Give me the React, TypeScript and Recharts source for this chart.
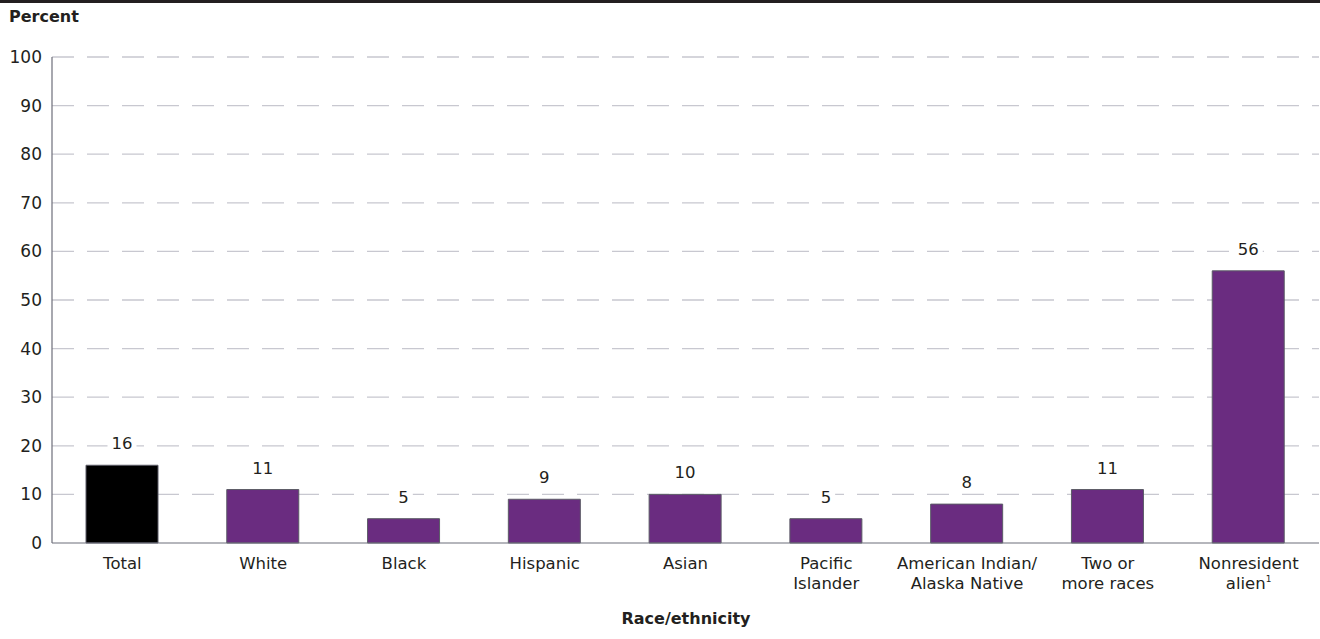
import React from "react";
import { BarChart, Bar, XAxis, YAxis, CartesianGrid, Cell, LabelList } from "recharts";

const categories = [
  "Total",
  "White",
  "Black",
  "Hispanic",
  "Asian",
  "Pacific\nIslander",
  "American Indian/\nAlaska Native",
  "Two or\nmore races",
  "Nonresident\nalien¹",
];
const values = [16, 11, 5, 9, 10, 5, 8, 11, 56];
const yTicks = [0, 10, 20, 30, 40, 50, 60, 70, 80, 90, 100];

const FONT = "'DejaVu Sans', sans-serif";
const PURPLE = "#6a2c80";
const TEXT = "#231f20";

const data = categories.map((name, i) => ({ name, value: values[i] }));

function CategoryTick({ x, y, payload }: any) {
  const lines = String(payload.value).split("\n");
  return (
    <text x={x} y={y + 6} textAnchor="middle" fill={TEXT} fontSize={16.5} fontFamily={FONT}>
      {lines.map((line, i) => {
        const sup = line.endsWith("¹");
        const body = sup ? line.slice(0, -1) : line;
        return (
          <tspan key={i} x={x} dy={i === 0 ? 12 : 20}>
            {body}
            {sup && (
              <tspan fontSize={9} dy={-7}>
                1
              </tspan>
            )}
          </tspan>
        );
      })}
    </text>
  );
}

function ValueLabel({ x, y, width, value }: any) {
  const cx = x + width / 2;
  const cy = y - 22;
  const w = String(value).length * 10.5 + 8;
  return (
    <g>
      <rect x={cx - w / 2} y={cy - 10} width={w} height={20} fill="#fff" />
      <text x={cx} y={cy} dy={6} textAnchor="middle" fill={TEXT} fontSize={16.5} fontFamily={FONT}>
        {value}
      </text>
    </g>
  );
}

export default function App() {
  return (
    <div style={{ position: "absolute", left: 0, top: 0, width: 1320, height: 639, background: "#fff" }}>
      <div style={{ position: "absolute", left: 0, top: 0, width: 1320, height: 3, background: "#231f20" }} />
      <div
        style={{
          position: "absolute",
          left: 9,
          top: 7,
          fontFamily: FONT,
          fontWeight: "bold",
          fontSize: 16,
          color: TEXT,
        }}
      >
        Percent
      </div>
      <BarChart
        width={1320}
        height={639}
        data={data}
        margin={{ top: 57, right: 1, left: 0, bottom: 0 }}
        barSize={72}
      >
        <CartesianGrid
          vertical={false}
          stroke="#c8c8d0"
          strokeWidth={1.3}
          strokeDasharray="22 13"
          horizontalValues={yTicks.slice(1)}
        />
        <XAxis
          dataKey="name"
          height={96}
          interval={0}
          tick={<CategoryTick />}
          tickLine={false}
          axisLine={{ stroke: "#6d6e7a", strokeWidth: 1.2 }}
        />
        <YAxis
          width={52}
          domain={[0, 100]}
          ticks={yTicks}
          interval={0}
          tickLine={false}
          axisLine={{ stroke: "#6d6e7a", strokeWidth: 1.2 }}
          tick={{ fill: TEXT, fontSize: 17, fontFamily: FONT, dx: -2 }}
        />
        <Bar dataKey="value" isAnimationActive={false} stroke="#5b5b66" strokeWidth={1}>
          {data.map((d, i) => (
            <Cell key={d.name} fill={i === 0 ? "#000" : PURPLE} />
          ))}
          <LabelList dataKey="value" content={<ValueLabel />} />
        </Bar>
      </BarChart>
      <div
        style={{
          position: "absolute",
          left: 0,
          width: 1320,
          top: 609,
          textAlign: "center",
          fontFamily: FONT,
          fontWeight: "bold",
          fontSize: 16,
          color: TEXT,
          paddingLeft: 52,
          boxSizing: "border-box",
        }}
      >
        Race/ethnicity
      </div>
    </div>
  );
}
